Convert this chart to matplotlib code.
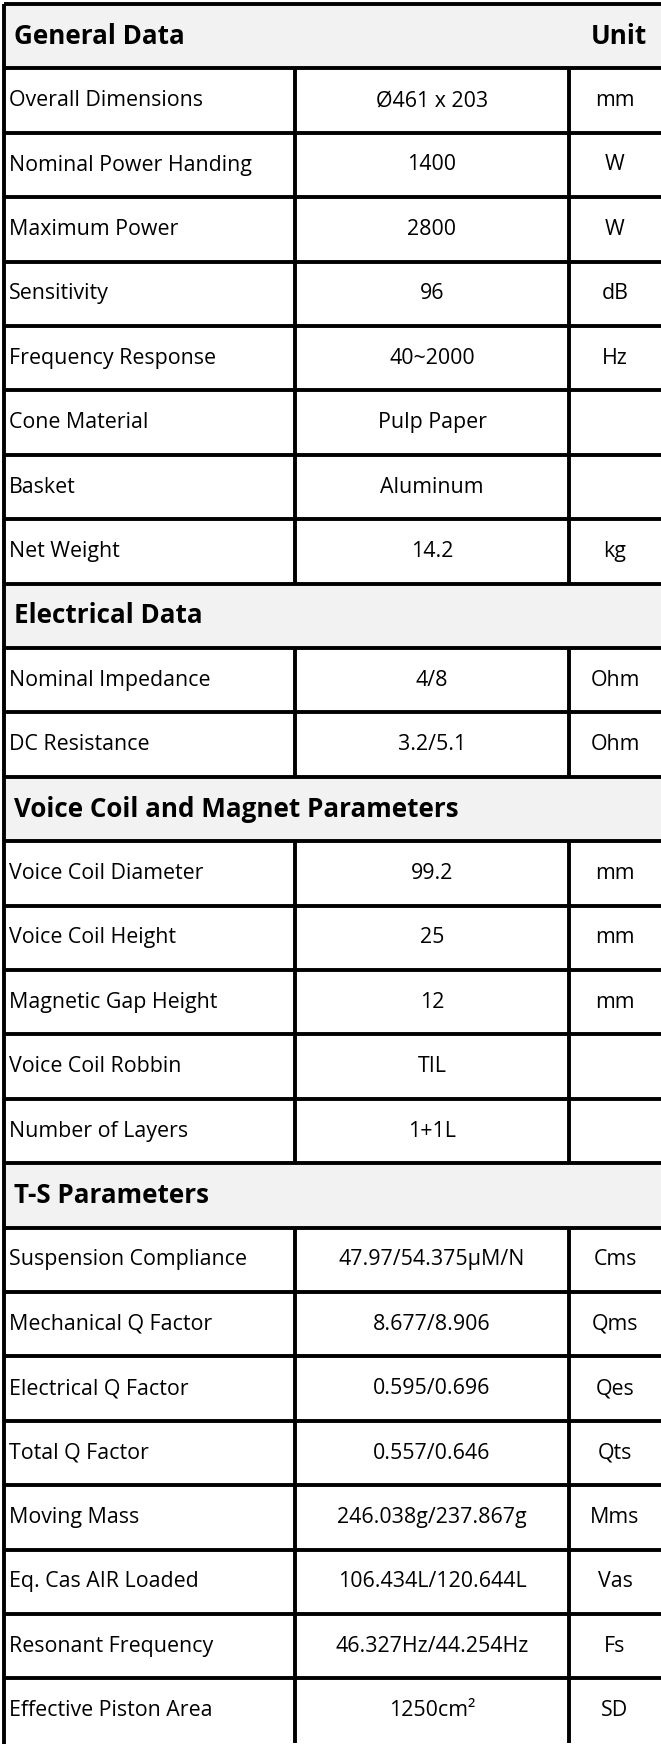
import matplotlib
matplotlib.use("Agg")
import matplotlib.pyplot as plt
from matplotlib.patches import Rectangle

# --- table content ---
section_titles = ["General Data", "Electrical Data",
                  "Voice Coil and Magnet Parameters", "T-S Parameters"]

general_params = ["Overall Dimensions", "Nominal Power Handing", "Maximum Power",
                  "Sensitivity", "Frequency Response", "Cone Material", "Basket",
                  "Net Weight"]
general_values = ["Ø461 x 203", "1400", "2800", "96", "40~2000", "Pulp Paper",
                  "Aluminum", "14.2"]
general_units = ["mm", "W", "W", "dB", "Hz", "", "", "kg"]

electrical_params = ["Nominal Impedance", "DC Resistance"]
electrical_values = ["4/8", "3.2/5.1"]
electrical_units = ["Ohm", "Ohm"]

coil_params = ["Voice Coil Diameter", "Voice Coil Height", "Magnetic Gap Height",
               "Voice Coil Robbin", "Number of Layers"]
coil_values = ["99.2", "25", "12", "TIL", "1+1L"]
coil_units = ["mm", "mm", "mm", "", ""]

ts_params = ["Suspension Compliance", "Mechanical Q Factor", "Electrical Q Factor",
             "Total Q Factor", "Moving Mass", "Eq. Cas AIR Loaded",
             "Resonant Frequency", "Effective Piston Area"]
ts_values = ["47.97/54.375μM/N", "8.677/8.906", "0.595/0.696", "0.557/0.646",
             "246.038g/237.867g", "106.434L/120.644L", "46.327Hz/44.254Hz",
             "1250cm²"]
ts_units = ["Cms", "Qms", "Qes", "Qts", "Mms", "Vas", "Fs", "SD"]

sections = [
    (general_params, general_values, general_units),
    (electrical_params, electrical_values, electrical_units),
    (coil_params, coil_values, coil_units),
    (ts_params, ts_values, ts_units),
]

# --- layout (pixels) ---
W, H = 661, 1744
top = 4
row_h = 64.4
x_left = 4
x_col1 = 295
x_col2 = 569
lw = 2.8
font = "Open Sans"
fs = 15.4
fs_head = 18.7

fig = plt.figure(figsize=(W / 100, H / 100), dpi=100)
ax = fig.add_axes([0, 0, 1, 1])
ax.set_xlim(0, W)
ax.set_ylim(H, 0)
ax.axis("off")

row = 0
for title, (params, values, units) in zip(section_titles, sections):
    y0 = top + row * row_h
    ax.add_patch(Rectangle((x_left, y0), W - x_left, row_h,
                           facecolor="#f2f2f2", edgecolor="none", zorder=0))
    ax.text(x_left + 10, y0 + row_h / 2, title, fontsize=fs_head,
            fontweight="bold", family=font, va="center", ha="left")
    if row == 0:
        ax.text(W - 14, y0 + row_h / 2, "Unit", fontsize=fs_head,
                fontweight="bold", family=font, va="center", ha="right")
    row += 1
    for p, v, u in zip(params, values, units):
        y0 = top + row * row_h
        yc = y0 + row_h / 2
        ax.text(x_left + 5, yc, p, fontsize=fs, family=font, va="center", ha="left")
        ax.text((x_col1 + x_col2) / 2, yc, v, fontsize=fs, family=font,
                va="center", ha="center")
        ax.text((x_col2 + W) / 2, yc, u, fontsize=fs, family=font,
                va="center", ha="center")
        ax.vlines([x_col1, x_col2], y0, y0 + row_h, colors="black", lw=lw)
        row += 1

# horizontal rules between every band
for k in range(row):
    ax.hlines(top + k * row_h, x_left, W, colors="black", lw=lw)
ax.vlines(x_left, top, H, colors="black", lw=lw)

fig.savefig("out.png", dpi=100, facecolor="white")
